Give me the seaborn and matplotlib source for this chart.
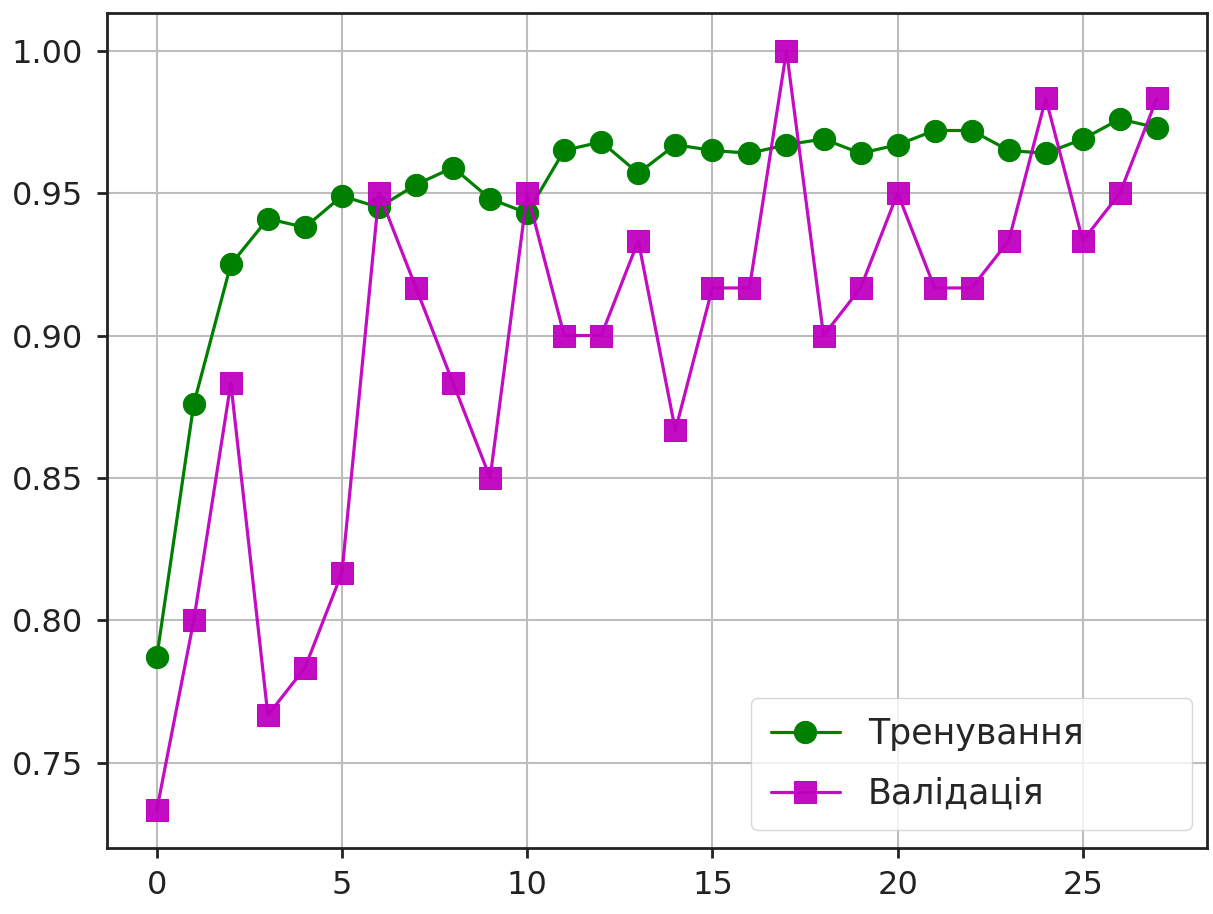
import matplotlib
matplotlib.use("Agg")
import matplotlib.pyplot as plt
import seaborn as sns
import pandas as pd

# accuracy per epoch
epochs = list(range(28))
train_acc = [0.787, 0.876, 0.925, 0.941, 0.938, 0.949, 0.945, 0.953, 0.959, 0.948,
             0.943, 0.965, 0.968, 0.957, 0.967, 0.965, 0.964, 0.967, 0.969, 0.964,
             0.967, 0.972, 0.972, 0.965, 0.964, 0.969, 0.976, 0.973]
val_acc = [0.7333, 0.8000, 0.8833, 0.7667, 0.7833, 0.8167, 0.9500, 0.9167, 0.8833, 0.8500,
           0.9500, 0.9000, 0.9000, 0.9333, 0.8667, 0.9167, 0.9167, 1.0000, 0.9000, 0.9167,
           0.9500, 0.9167, 0.9167, 0.9333, 0.9833, 0.9333, 0.9500, 0.9833]
labels = ["Тренування", "Валідація"]

df = pd.DataFrame({"epoch": epochs, "train": train_acc, "val": val_acc})

sns.set_style("ticks")
plt.rcParams["font.family"] = ["DejaVu Sans"]

fig = plt.figure(figsize=(12.13, 9.14), dpi=100)
ax = fig.add_axes([0.088, 0.072, 0.907, 0.914])

sns.lineplot(data=df, x="epoch", y="train", ax=ax, color="green", marker="o",
             markersize=16, linewidth=2.3, markeredgecolor="green", label=labels[0])
sns.lineplot(data=df, x="epoch", y="val", ax=ax, color="m", marker="s",
             markersize=16, linewidth=2.3, markeredgecolor="m", alpha=0.95, label=labels[1])

ax.grid(True, color="#bdbdbd", linewidth=1.5)
ax.set_xlabel("")
ax.set_ylabel("")
ax.set_xticks([0, 5, 10, 15, 20, 25])
ax.set_yticks([0.75, 0.80, 0.85, 0.90, 0.95, 1.00])
ax.set_yticklabels(["0.75", "0.80", "0.85", "0.90", "0.95", "1.00"])
ax.tick_params(labelsize=23, length=7, width=2, direction="out", colors="#222222")
ax.tick_params(axis="y", pad=10)
ax.tick_params(axis="x", pad=9)
for s in ax.spines.values():
    s.set_linewidth(2)
    s.set_color("#222222")

# legend box is wide in the original, with empty space right of the labels
ax.legend(loc="lower left", bbox_to_anchor=(0.586, 0.022, 0.40, 0.152), mode="expand",
          fontsize=25, frameon=True, handlelength=2.0, borderaxespad=0,
          labelspacing=0.75, borderpad=0.55)

fig.savefig("out.png", dpi=100)
